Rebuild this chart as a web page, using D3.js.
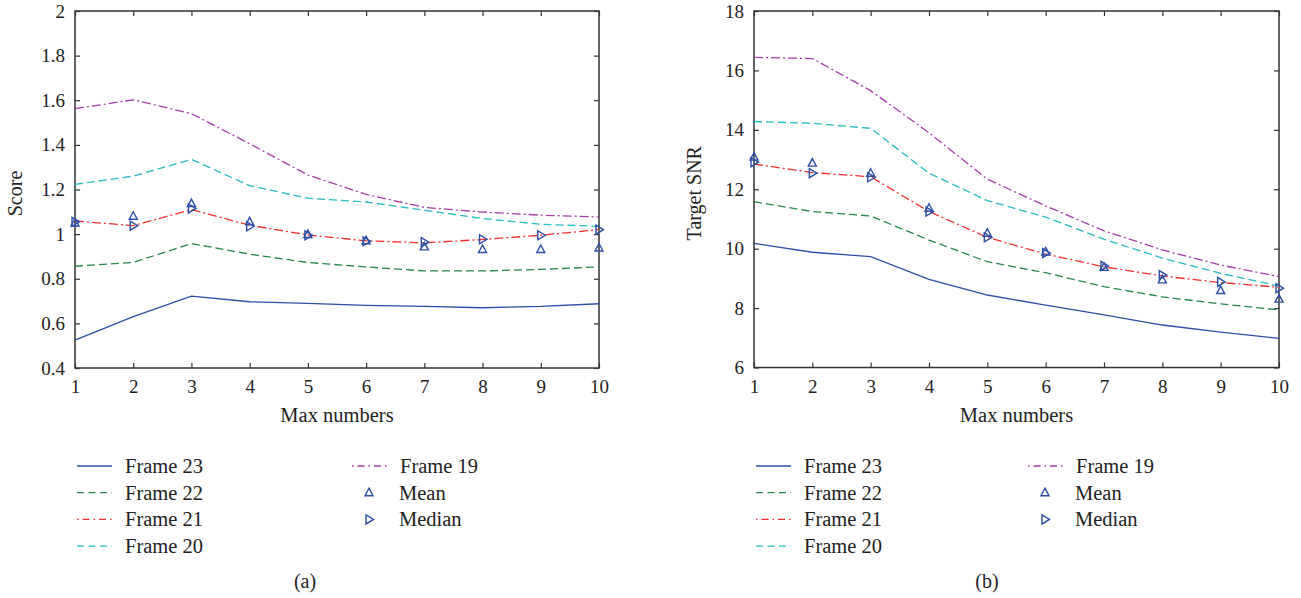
<!DOCTYPE html>
<html>
<head>
<meta charset="utf-8">
<script src="https://cdn.jsdelivr.net/npm/d3@7"></script>
<style>
  body { margin: 0; background: #fff; }
  svg { display: block; }
  text { font-family: "Liberation Serif", "Times New Roman", serif; fill: #222; }
</style>
</head>
<body>
<script>
const xs = [1, 2, 3, 4, 5, 6, 7, 8, 9, 10]

// (a) Score
const scoreF23 = [0.525, 0.63, 0.722, 0.697, 0.69, 0.681, 0.676, 0.67, 0.676, 0.688]
const scoreF22 = [0.856, 0.873, 0.958, 0.91, 0.873, 0.853, 0.835, 0.835, 0.842, 0.853]
const scoreF21 = [1.059, 1.038, 1.11, 1.04, 0.996, 0.97, 0.961, 0.976, 0.995, 1.02]
const scoreF20 = [1.223, 1.26, 1.335, 1.217, 1.161, 1.144, 1.107, 1.07, 1.044, 1.035]
const scoreF19 = [1.562, 1.602, 1.54, 1.405, 1.265, 1.178, 1.12, 1.099, 1.085, 1.077]
const scoreMean = [1.05, 1.08, 1.137, 1.055, 0.998, 0.97, 0.943, 0.931, 0.931, 0.938]
const scoreMedian = [1.055, 1.038, 1.115, 1.035, 0.995, 0.968, 0.964, 0.977, 0.995, 1.02]

// (b) Target SNR
const snrF23 = [10.18, 9.88, 9.73, 8.97, 8.44, 8.1, 7.77, 7.43, 7.19, 6.98]
const snrF22 = [11.58, 11.25, 11.1, 10.29, 9.56, 9.19, 8.72, 8.38, 8.14, 7.94]
const snrF21 = [12.85, 12.56, 12.42, 11.25, 10.38, 9.82, 9.39, 9.08, 8.86, 8.7]
const snrF20 = [14.28, 14.22, 14.05, 12.54, 11.62, 11.06, 10.32, 9.68, 9.17, 8.74]
const snrF19 = [16.44, 16.4, 15.32, 13.9, 12.34, 11.44, 10.6, 9.96, 9.45, 9.06]
const snrMean = [13.08, 12.88, 12.54, 11.36, 10.52, 9.89, 9.37, 8.95, 8.59, 8.3]
const snrMedian = [12.91, 12.54, 12.4, 11.25, 10.38, 9.85, 9.42, 9.11, 8.88, 8.67]

const scoreTicks = [0.4, 0.6, 0.8, 1, 1.2, 1.4, 1.6, 1.8, 2]
const snrTicks = [6, 8, 10, 12, 14, 16, 18]

const seriesStyle = [
  { name: 'Frame 23', color: '#2c4ea8', dash: null, legDash: null },
  { name: 'Frame 22', color: '#24874a', dash: '8,4', legDash: '7,4.5' },
  { name: 'Frame 21', color: '#f5302e', dash: '9,3,2,3', legDash: '1.5,4,7,4' },
  { name: 'Frame 20', color: '#26bcc0', dash: '8,4', legDash: '7,4.5' },
  { name: 'Frame 19', color: '#a43ea8', dash: '9,3,2,3', legDash: '1.5,4,7,4' }
]
const markerColor = '#2c4ea8'

let svg = d3.select('body').append('svg')
  .attr('width', 1301)
  .attr('height', 598)

const triUp = 'M0,-4.5L4,3L-4,3Z'
const triRight = 'M-3,-4.5L4.5,0L-3,4.5Z'

function drawPanel(opt) {
  let g = svg.append('g')
  let xScale = d3.scaleLinear().domain([1, 10]).range([opt.left, opt.right])
  let yScale = d3.scaleLinear().domain(opt.yDomain).range([opt.bottom, opt.top])

  // box
  g.append('rect')
    .attr('x', opt.left).attr('y', opt.top)
    .attr('width', opt.right - opt.left).attr('height', opt.bottom - opt.top)
    .attr('fill', 'none').attr('stroke', '#333').attr('stroke-width', 1.5)

  // axes, ticks point inward on all four sides
  let bottom = g.append('g').attr('transform', `translate(0,${opt.bottom})`)
    .call(d3.axisBottom(xScale).tickValues(xs).tickSize(-5).tickPadding(12).tickFormat(d3.format('d')))
  let top = g.append('g').attr('transform', `translate(0,${opt.top})`)
    .call(d3.axisTop(xScale).tickValues(xs).tickSize(-5).tickFormat(''))
  let left = g.append('g').attr('transform', `translate(${opt.left},0)`)
    .call(d3.axisLeft(yScale).tickValues(opt.ticks).tickSize(-5).tickPadding(10).tickFormat(d => d3.format('')(d)))
  let right = g.append('g').attr('transform', `translate(${opt.right},0)`)
    .call(d3.axisRight(yScale).tickValues(opt.ticks).tickSize(-5).tickFormat(''))
  ;[bottom, top, left, right].forEach(a => {
    a.select('.domain').remove()
    a.selectAll('.tick line').attr('stroke', '#333').attr('stroke-width', 1.2)
    a.selectAll('.tick text').style('font-size', '19px').style('font-family', '"Liberation Serif", serif').attr('fill', '#222')
  })

  // axis titles
  g.append('text')
    .attr('x', (opt.left + opt.right) / 2).attr('y', opt.bottom + 54)
    .attr('text-anchor', 'middle').style('font-size', '20.5px')
    .text('Max numbers')
  g.append('text')
    .attr('transform', `translate(${opt.left - 53},${(opt.top + opt.bottom) / 2 + 4}) rotate(-90)`)
    .attr('text-anchor', 'middle').style('font-size', '20px')
    .text(opt.yLabel)

  // lines
  let line = d3.line().x((d, i) => xScale(xs[i])).y(d => yScale(d))
  opt.series.forEach((vals, i) => {
    let s = seriesStyle[i]
    g.append('path')
      .attr('d', line(vals))
      .attr('fill', 'none')
      .attr('stroke', s.color)
      .attr('stroke-width', 1.3)
      .attr('stroke-dasharray', s.dash)
  })

  // markers
  g.selectAll('.mean').data(opt.mean).enter().append('path')
    .attr('class', 'mean')
    .attr('d', triUp)
    .attr('transform', (d, i) => `translate(${xScale(xs[i])},${yScale(d)})`)
    .attr('fill', 'none').attr('stroke', markerColor).attr('stroke-width', 1.4)
  g.selectAll('.median').data(opt.median).enter().append('path')
    .attr('class', 'median')
    .attr('d', triRight)
    .attr('transform', (d, i) => `translate(${xScale(xs[i])},${yScale(d)})`)
    .attr('fill', 'none').attr('stroke', markerColor).attr('stroke-width', 1.4)

  // legend
  let lg = g.append('g')
  let rowH = 26.7
  let y0 = 466
  seriesStyle.forEach((s, i) => {
    let col = i < 4 ? 0 : 1
    let row = i < 4 ? i : 0
    let lx = col === 0 ? opt.legX1 : opt.legX2
    let y = y0 + row * rowH
    lg.append('line')
      .attr('x1', lx).attr('x2', lx + 35).attr('y1', y).attr('y2', y)
      .attr('stroke', s.color).attr('stroke-width', 1.3)
      .attr('stroke-dasharray', s.legDash)
    lg.append('text')
      .attr('x', lx + 48).attr('y', y + 7)
      .style('font-size', '20.5px')
      .text(s.name)
  })
  ;[['Mean', triUp], ['Median', triRight]].forEach((m, k) => {
    let y = y0 + (k + 1) * rowH
    lg.append('path')
      .attr('d', m[1])
      .attr('transform', `translate(${opt.legX2 + 17},${y})`)
      .attr('fill', 'none').attr('stroke', markerColor).attr('stroke-width', 1.4)
    lg.append('text')
      .attr('x', opt.legX2 + 47).attr('y', y + 7)
      .style('font-size', '20.5px')
      .text(m[0])
  })

  g.append('text')
    .attr('x', opt.capX).attr('y', 588)
    .attr('text-anchor', 'middle').style('font-size', '20px')
    .text(opt.caption)
}

drawPanel({
  left: 75, right: 599, top: 11, bottom: 368,
  yDomain: [0.4, 2], ticks: scoreTicks, yLabel: 'Score',
  series: [scoreF23, scoreF22, scoreF21, scoreF20, scoreF19],
  mean: scoreMean, median: scoreMedian,
  legX1: 77, legX2: 352, capX: 305, caption: '(a)'
})

drawPanel({
  left: 754, right: 1279, top: 11, bottom: 367.5,
  yDomain: [6, 18], ticks: snrTicks, yLabel: 'Target SNR',
  series: [snrF23, snrF22, snrF21, snrF20, snrF19],
  mean: snrMean, median: snrMedian,
  legX1: 756, legX2: 1028, capX: 987, caption: '(b)'
})
</script>
</body>
</html>
